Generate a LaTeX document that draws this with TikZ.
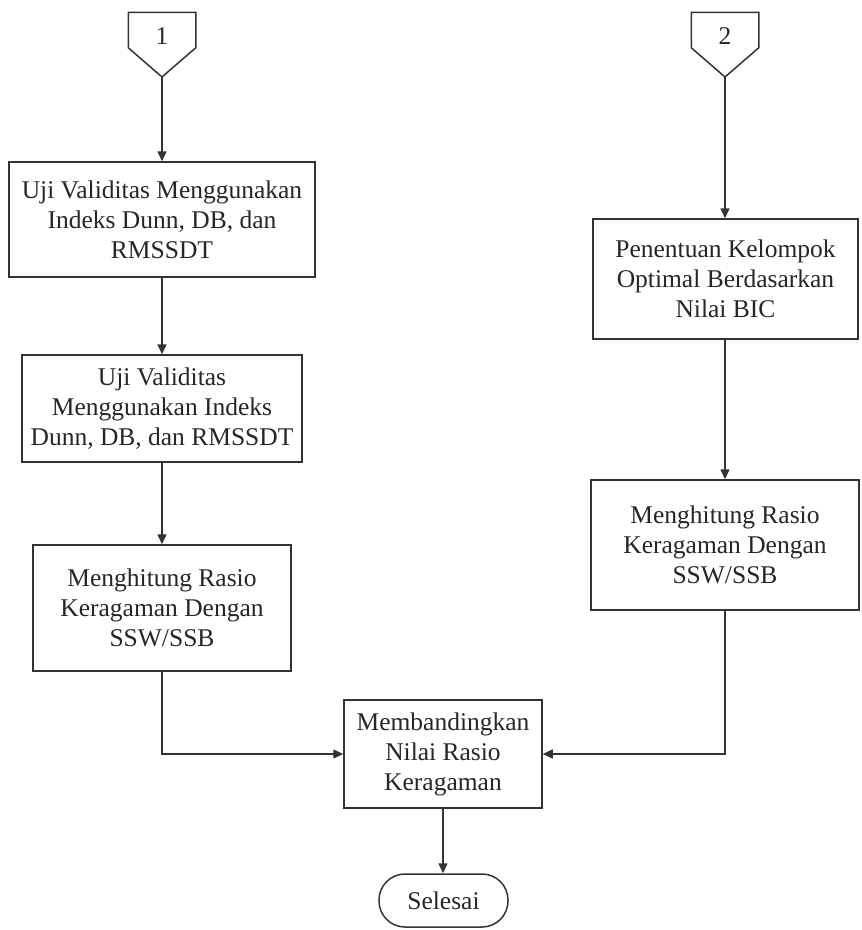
\documentclass[tikz,border=0pt]{standalone}
\usepackage{fontspec}
\setmainfont{Liberation Serif}
\usetikzlibrary{arrows.meta}
\begin{document}
\begin{tikzpicture}[x=1pt,y=-1pt,
  line width=1.5pt,
  every node/.style={font=\fontsize{25.5}{30}\selectfont, text=black!85},
  procbox/.style={draw=black!80, align=center, inner sep=0pt},
  arr/.style={-{Triangle[length=10pt,width=9pt]}, draw=black!80},
  conn/.style={draw=black!80, line join=miter}]
\useasboundingbox (0,0) rectangle (862,930);
% off-page connectors
\node (c1) at (162,30) [minimum width=66pt, minimum height=34pt, inner sep=0pt] {};
\node (l1) at (162,36) {1};
\coordinate (c1p) at (162,77);
\draw[conn] (c1.south west) -- (c1.north west) -- (c1.north east) -- (c1.south east) -- (c1p) -- cycle;
\node (c2) at (725,30) [minimum width=66pt, minimum height=34pt, inner sep=0pt] {};
\node (l2) at (725,36) {2};
\coordinate (c2p) at (725,77);
\draw[conn] (c2.south west) -- (c2.north west) -- (c2.north east) -- (c2.south east) -- (c2p) -- cycle;
% process boxes
\node[procbox, minimum width=306pt, minimum height=115pt] (b1) at (162,219.5)
  {Uji Validitas Menggunakan\\Indeks Dunn, DB, dan\\RMSSDT};
\node[procbox, minimum width=280pt, minimum height=107pt] (b2) at (162,408.5)
  {Uji Validitas\\Menggunakan Indeks\\Dunn, DB, dan RMSSDT};
\node[procbox, minimum width=258pt, minimum height=126pt] (b3) at (162,608)
  {Menghitung Rasio\\Keragaman Dengan\\SSW/SSB};
\node[procbox, minimum width=265pt, minimum height=120pt] (b4) at (725.5,279)
  {Penentuan Kelompok\\Optimal Berdasarkan\\Nilai BIC};
\node[procbox, minimum width=268pt, minimum height=130pt] (b5) at (725,545)
  {Menghitung Rasio\\Keragaman Dengan\\SSW/SSB};
\node[procbox, minimum width=198pt, minimum height=108pt] (b6) at (443,754)
  {Membandingkan\\Nilai Rasio\\Keragaman};
\node[procbox, rounded corners=26pt, minimum width=129pt, minimum height=53pt] (end) at (443.5,900.5)
  {Selesai};
% connectors
\draw[arr] (c1p) -- (b1.north);
\draw[arr] (b1.south) -- (b2.north);
\draw[arr] (b2.south) -- (b3.north);
\draw[arr] (c2p) -- (b4.north -| c2p);
\draw[arr] (b4.south -| b5.north) -- (b5.north);
\draw[arr] (b3.south) |- (b6.west);
\draw[arr] (b5.south) |- (b6.east);
\draw[arr] (b6.south) -- (end.north -| b6.south);
\end{tikzpicture}
\end{document}
